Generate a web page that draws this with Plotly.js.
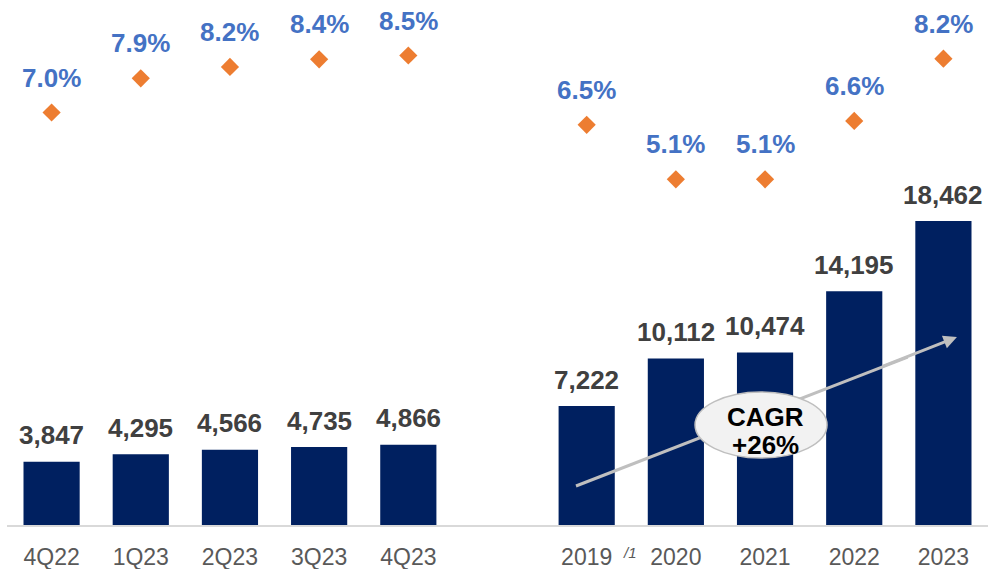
<!DOCTYPE html>
<html>
<head>
<meta charset="utf-8">
<script src="https://cdn.plot.ly/plotly-3.0.1.min.js"></script>
<style>
html,body{margin:0;padding:0;background:#fff;}
#chart{width:992px;height:569px;}
</style>
</head>
<body>
<div id="chart"></div>
<script>
// ---- data ----
var quarters = ['4Q22','1Q23','2Q23','3Q23','4Q23'];
var quarterValues = [3847, 4295, 4566, 4735, 4866];
var quarterPct = [7.0, 7.9, 8.2, 8.4, 8.5];
var pctLabelsQ = ['7.0%','7.9%','8.2%','8.4%','8.5%'];

var years = ['2019','2020','2021','2022','2023'];
var yearValues = [7222, 10112, 10474, 14195, 18462];
var yearPct = [6.5, 5.1, 5.1, 6.6, 8.2];
var pctLabelsY = ['6.5%','5.1%','5.1%','6.6%','8.2%'];

var cagrLabel = ['CAGR', '+26%'];
var footnote = '/1';

// ---- positions (one blank slot between groups) ----
var xq = quarters.map(function(_, i){ return i; });
var xy = years.map(function(_, i){ return i + quarters.length + 1; });

var FONT = 'Liberation Sans, Arial, sans-serif';
var NAVY = '#002060', ORANGE = '#ED7D31', BLUE = '#4472C4';

function fmt(v){ return v.toLocaleString('en-US'); }

var traces = [
  {type:'bar', x:xq, y:quarterValues, width:0.63, marker:{color:NAVY}, hoverinfo:'skip'},
  {type:'bar', x:xy, y:yearValues, width:0.63, marker:{color:NAVY}, hoverinfo:'skip'},
  {type:'scatter', mode:'markers', x:xq, y:quarterPct, yaxis:'y2',
   marker:{symbol:'diamond', size:14, color:ORANGE}, hoverinfo:'skip'},
  {type:'scatter', mode:'markers', x:xy, y:yearPct, yaxis:'y3',
   marker:{symbol:'diamond', size:14, color:ORANGE}, hoverinfo:'skip'}
];

var annotations = [];
function barLabels(xs, vals){
  xs.forEach(function(x, i){
    annotations.push({x:x, y:vals[i], xref:'x', yref:'y', text:fmt(vals[i]),
      showarrow:false, yanchor:'middle', yshift:26.5,
      font:{family:FONT, size:26, color:'#404040', weight:'bold'}});
  });
}
function pctLabels(xs, vals, labels, yref){
  xs.forEach(function(x, i){
    annotations.push({x:x, y:vals[i], xref:'x', yref:yref, text:labels[i],
      showarrow:false, yanchor:'middle', yshift:35,
      font:{family:FONT, size:26, color:BLUE, weight:'bold'}});
  });
}
barLabels(xq, quarterValues);
barLabels(xy, yearValues);
pctLabels(xq, quarterPct, pctLabelsQ, 'y2');
pctLabels(xy, yearPct, pctLabelsY, 'y3');

// arrow head (annotation) - drawn from a point on the growth line to its tip
annotations.push({x:10.152, y:11417, xref:'x', yref:'y', ax:9.30, ay:9600, axref:'x', ayref:'y',
  text:'', showarrow:true, arrowhead:2, arrowsize:0.9, arrowwidth:3, arrowcolor:'#BFBFBF', standoff:0});

// CAGR text
annotations.push({x:8.01, y:6589, xref:'x', yref:'y', text:cagrLabel[0], showarrow:false,
  yanchor:'middle', font:{family:FONT, size:26, color:'#000', weight:'bold'}});
annotations.push({x:8.01, y:4858, xref:'x', yref:'y', text:cagrLabel[1], showarrow:false,
  yanchor:'middle', font:{family:FONT, size:26, color:'#000', weight:'bold'}});

// footnote marker next to 2019
annotations.push({x:xy[0], y:0, xref:'x', yref:'paper', text:'<i>' + footnote + '</i>', showarrow:false,
  xshift:43, yshift:-27, yanchor:'middle', font:{family:FONT, size:15, color:'#595959'}});

var shapes = [
  {type:'line', xref:'x', yref:'y', x0:5.880, y0:2368, x1:9.6, y1:10200,
   line:{color:'#BFBFBF', width:3}, layer:'above'},
  {type:'circle', xref:'x', yref:'y', x0:7.215, x1:8.695, y0:4069, y1:8077,
   fillcolor:'#F2F2F2', line:{color:'#BFBFBF', width:1.5}, layer:'above'}
];

var layout = {
  width:992, height:569,
  margin:{l:7, r:4, t:0, b:44},
  paper_bgcolor:'#fff', plot_bgcolor:'#fff',
  showlegend:false,
  barmode:'overlay',
  xaxis:{range:[-0.5, 10.5], tickvals:xq.concat(xy), ticktext:quarters.concat(years),
    showgrid:false, zeroline:false, showline:true, linecolor:'#D9D9D9', linewidth:2,
    ticks:'', ticklabelstandoff:10,
    tickfont:{family:FONT, size:23, color:'#595959'}, fixedrange:true},
  yaxis:{range:[0, 31883], visible:false, showgrid:false, zeroline:false, fixedrange:true},
  yaxis2:{range:[-3.855, 9.961], overlaying:'y', visible:false, showgrid:false, zeroline:false},
  yaxis3:{range:[-3.787, 9.709], overlaying:'y', visible:false, showgrid:false, zeroline:false},
  annotations:annotations,
  shapes:shapes
};

Plotly.newPlot('chart', traces, layout, {displayModeBar:false, staticPlot:true});
</script>
</body>
</html>
